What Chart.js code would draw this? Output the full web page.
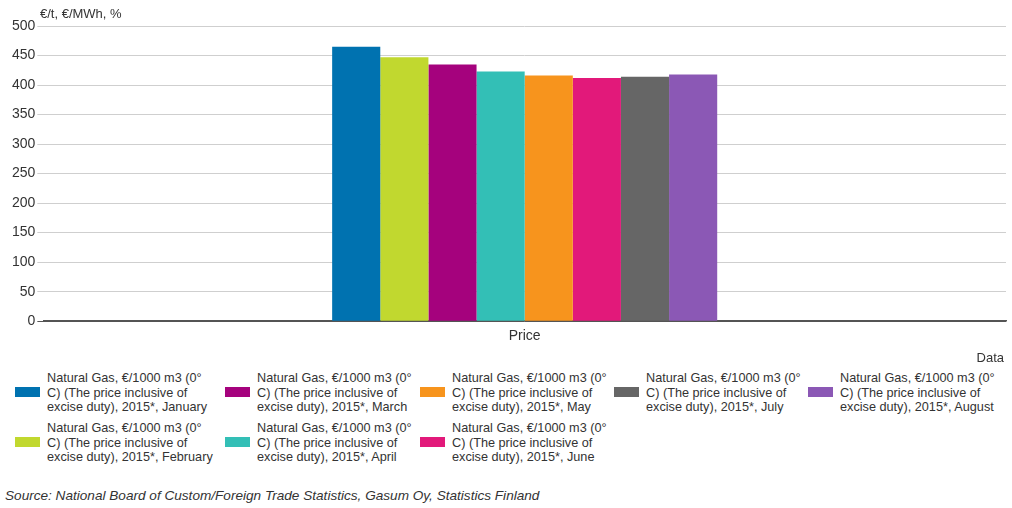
<!DOCTYPE html>
<html>
<head>
<meta charset="utf-8">
<script src="https://cdn.jsdelivr.net/npm/chart.js@4/dist/chart.umd.min.js"></script>
<style>
  html, body { margin:0; padding:0; background:#fff; }
  body { width:1012px; height:508px; position:relative; overflow:hidden; font-family:"Liberation Sans", Arial, sans-serif; color:#333; }
  #wrap { position:absolute; left:0; top:0; width:1012px; height:356px; }
  #unit { position:absolute; left:40px; top:6px; font-size:13px; color:#333; }
  #dataLbl { position:absolute; right:8px; top:350px; font-size:13px; color:#333; }
  .item { position:absolute; font-size:12.7px; line-height:14.5px; color:#333; }
  .sw { position:absolute; width:25px; height:10px; }
  .txt { position:absolute; white-space:nowrap; }
  #src { position:absolute; left:5px; top:488px; font-size:13.6px; font-style:italic; color:#333; }
</style>
</head>
<body>
<div id="wrap"><canvas id="c"></canvas></div>
<div id="unit">€/t, €/MWh, %</div>
<div id="dataLbl">Data</div>
<div id="legend"></div>
<div id="src">Source: National Board of Custom/Foreign Trade Statistics, Gasum Oy, Statistics Finland</div>
<script>
const categories = ['Price'];
const months = ['January','February','March','April','May','June','July','August'];
const seriesPrefix = 'Natural Gas, €/1000 m3 (0° C) (The price inclusive of excise duty), 2015*, ';
const values = [465, 447, 435, 423, 416, 412, 414, 418];
const colors = ['#0072b0','#c1d82f','#a5027d','#33bfb6','#f7941d','#e2197a','#666666','#8b58b5'];
const yTicks = [0,50,100,150,200,250,300,350,400,450,500];

const datasets = months.map((m,i)=>({
  label: seriesPrefix + m,
  data: [values[i]],
  backgroundColor: colors[i],
  borderWidth: 0,
  barPercentage: 1.0,
  categoryPercentage: 0.4
}));

const chart = new Chart(document.getElementById('c'), {
  type: 'bar',
  data: { labels: categories, datasets },
  options: {
    responsive: true,
    maintainAspectRatio: false,
    animation: false,
    layout: { padding: { top: 26, right: 6, left: 10, bottom: 4 } },
    plugins: { legend: { display:false }, tooltip: { enabled:false } },
    scales: {
      x: {
        grid: { display:false, drawTicks:false },
        border: { display:true, color:'#555', width:1.5 },
        ticks: { color:'#333', font:{ family:'Liberation Sans', size:14 }, padding:7 }
      },
      y: {
        min: 0, max: 500,
        afterBuildTicks: (ax) => { ax.ticks = yTicks.map(v=>({value:v})); },
        grid: { color:(ctx)=> ctx.tick && ctx.tick.value===0 ? '#555' : '#cfcfcf', lineWidth:1, drawTicks:true, tickLength:6 },
        border: { display:false },
        ticks: { color:'#333', font:{ family:'Liberation Sans', size:14 }, padding:2 }
      }
    }
  }
});

// HTML legend built from the chart's datasets (column-major, 2 rows)
const colSwX = [15, 225, 420, 614, 808];
const rowTop = [371, 421];
const leg = document.getElementById('legend');
chart.data.datasets.forEach((ds, i) => {
  let c = Math.floor(i/2), r = i%2;
  if (i === 6) { c = 3; r = 0; }
  if (i === 7) { c = 4; r = 0; }
  const full = ds.label;
  const a = full.indexOf(' C) ');
  const b = full.indexOf(' excise');
  const lines = [full.slice(0,a), full.slice(a+1,b), full.slice(b+1)];
  const it = document.createElement('div');
  it.className = 'item';
  it.style.left = colSwX[c] + 'px';
  it.style.top = rowTop[r] + 'px';
  const sw = document.createElement('div');
  sw.className = 'sw';
  sw.style.background = ds.backgroundColor;
  sw.style.left = '0px'; sw.style.top = '16px';
  const tx = document.createElement('div');
  tx.className = 'txt';
  tx.style.left = '32px'; tx.style.top = '0px';
  tx.innerHTML = lines.map(l=>l.replace(/&/g,'&amp;').replace(/</g,'&lt;')).join('<br>');
  it.appendChild(sw); it.appendChild(tx);
  leg.appendChild(it);
});
</script>
</body>
</html>
